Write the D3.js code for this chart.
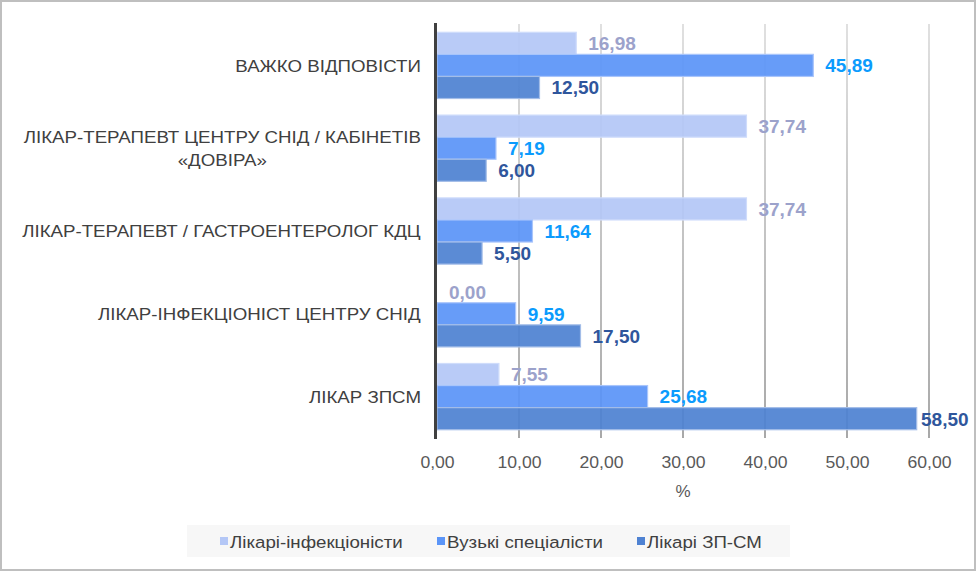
<!DOCTYPE html>
<html>
<head>
<meta charset="utf-8">
<script src="https://cdn.jsdelivr.net/npm/d3@7"></script>
<style>
  html, body { margin: 0; padding: 0; background: #fff; }
  svg { display: block; font-family: "Liberation Sans", Arial, sans-serif; }
</style>
</head>
<body>
<div id="chart"></div>
<script>
// Categories, top to bottom
const categories = [
  ['ВАЖКО ВІДПОВІСТИ'],
  ['ЛІКАР-ТЕРАПЕВТ ЦЕНТРУ СНІД / КАБІНЕТІВ', '«ДОВІРА»'],
  ['ЛІКАР-ТЕРАПЕВТ / ГАСТРОЕНТЕРОЛОГ КДЦ'],
  ['ЛІКАР-ІНФЕКЦІОНІСТ ЦЕНТРУ СНІД'],
  ['ЛІКАР ЗПСМ'],
];
const seriesNames = ['Лікарі-інфекціоністи', 'Вузькі спеціалісти', 'Лікарі ЗП-СМ'];
const infectionists = [16.98, 37.74, 37.74, 0.0, 7.55];
const specialists = [45.89, 7.19, 11.64, 9.59, 25.68];
const gpDoctors = [12.5, 6.0, 5.5, 17.5, 58.5];
const xTicks = [0, 10, 20, 30, 40, 50, 60];

const fills = ['#b4c7f6', '#5b95f8', '#4f82d2'];
const strokes = ['#cfdcfb', '#a9c5fb', '#a3bde8'];
const labelColors = ['#9ca2cb', '#0b9bfd', '#2f569c'];

const W = 976, H = 571;
const margin = { left: 437, right: 47, top: 24, bottom: 133 };
const stretch = 1.1; // text in the original is a bit wider than Arial

const svg = d3.select('#chart').append('svg').attr('width', W).attr('height', H);

// outer frame
svg.append('rect')
  .attr('x', 1).attr('y', 1).attr('width', W - 2).attr('height', H - 2)
  .attr('fill', '#fff').attr('stroke', '#bfbfbf').attr('stroke-width', 2);

const x = d3.scaleLinear().domain([0, 60]).range([margin.left, W - margin.right]);
const y = d3.scaleBand().domain(d3.range(categories.length))
  .range([margin.top, H - margin.bottom]).paddingInner(0.2).paddingOuter(0.1);
const ySub = d3.scaleBand().domain([0, 1, 2]).range([0, y.bandwidth()]);
const fmt = (d) => d3.format('.2f')(d).replace('.', ',');

// gridline gradient (lighter at the top)
const defs = svg.append('defs');
const grad = defs.append('linearGradient').attr('id', 'gridGrad')
  .attr('gradientUnits', 'userSpaceOnUse')
  .attr('x1', 0).attr('y1', margin.top).attr('x2', 0).attr('y2', H - margin.bottom);
grad.append('stop').attr('offset', '0%').attr('stop-color', '#e0e0e0');
grad.append('stop').attr('offset', '100%').attr('stop-color', '#a8a8a8');

// x axis ticks + grid
const xAxis = d3.axisBottom(x).tickValues(xTicks)
  .tickFormat(fmt)
  .tickSize(0).tickPadding(19);
const gx = svg.append('g')
  .attr('transform', `translate(0,${H - margin.bottom})`)
  .call(xAxis);
gx.select('.domain').remove();
gx.selectAll('text').attr('font-size', '16px').attr('fill', '#595959')
  .attr('transform', `scale(${stretch},1)`)
  .attr('font-family', '"Liberation Sans", Arial, sans-serif');

svg.append('g').selectAll('line')
  .data(xTicks.slice(1))
  .enter().append('line')
  .attr('x1', (d) => x(d)).attr('x2', (d) => x(d))
  .attr('y1', margin.top).attr('y2', H - margin.bottom)
  .attr('stroke', 'url(#gridGrad)').attr('stroke-width', 2);

// axis title
svg.append('text')
  .attr('x', x(30)).attr('y', 497)
  .attr('text-anchor', 'middle').attr('font-size', '17px').attr('fill', '#595959')
  .text('%');

// bars
const seriesData = [infectionists, specialists, gpDoctors];
seriesData.forEach((values, s) => {
  const g = svg.append('g');
  g.selectAll('rect')
    .data(values)
    .enter().append('rect')
    .attr('x', x(0))
    .attr('y', (d, i) => y(i) + ySub(s))
    .attr('width', (d) => x(d) - x(0))
    .attr('height', ySub.bandwidth())
    .attr('fill', fills[s])
    .attr('fill-opacity', 0.93)
    .attr('stroke', strokes[s])
    .attr('stroke-width', 1.2);

  g.selectAll('text')
    .data(values)
    .enter().append('text')
    .attr('x', (d) => Math.min(x(d) + 12, W - 55))
    .attr('y', (d, i) => y(i) + ySub(s) + ySub.bandwidth() / 2)
    .attr('dy', '0.36em')
    .attr('font-size', '19px').attr('font-weight', 'bold')
    .attr('fill', labelColors[s])
    .text(fmt);
});

// vertical axis line
svg.append('line')
  .attr('x1', x(0) - 1.5).attr('x2', x(0) - 1.5)
  .attr('y1', margin.top - 1).attr('y2', H - margin.bottom + 1)
  .attr('stroke', '#404040').attr('stroke-width', 3);

// category labels
const catG = svg.append('g');
categories.forEach((lines, i) => {
  const cy = y(i) + y.bandwidth() / 2;
  const lineH = 23;
  const t = catG.append('text')
    .attr('text-anchor', 'middle')
    .attr('font-size', '17px').attr('fill', '#404040');
  lines.forEach((ln, k) => {
    t.append('tspan')
      .attr('x', 0)
      .attr('y', cy + (k - (lines.length - 1) / 2) * lineH)
      .attr('dy', '0.36em')
      .text(ln);
  });
  // right-align the block, centre lines within it
  const w = t.node().getBBox().width * stretch;
  t.attr('transform', `translate(${421 - w / 2},0) scale(${stretch},1)`);
});

// legend
const legend = svg.append('g');
legend.append('rect')
  .attr('x', 187).attr('y', 525).attr('width', 603).attr('height', 32)
  .attr('fill', '#f7f7f7');
const legendX = [220, 437, 637];
seriesNames.forEach((name, s) => {
  legend.append('rect')
    .attr('x', legendX[s]).attr('y', 537).attr('width', 8).attr('height', 8)
    .attr('fill', fills[s]);
  legend.append('text')
    .attr('transform', `translate(${legendX[s] + 10},0) scale(${stretch},1)`)
    .attr('y', 541.5).attr('dy', '0.36em')
    .attr('font-size', '17px').attr('fill', '#404040')
    .text(name);
});
</script>
</body>
</html>
